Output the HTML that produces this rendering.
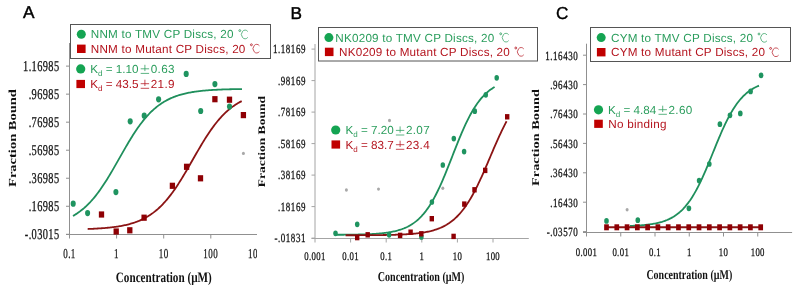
<!DOCTYPE html><html><head><meta charset="utf-8"><style>html,body{margin:0;padding:0;background:#fff}svg{display:block;will-change:transform;text-rendering:geometricPrecision}</style></head><body>
<svg width="800" height="292" viewBox="0 0 800 292">
<rect width="800" height="292" fill="#fff"/>
<g>
<line x1="69.5" y1="43" x2="69.5" y2="238.5" stroke="#909090" stroke-width="1"/>
<line x1="66.0" y1="234.5" x2="257" y2="234.5" stroke="#909090" stroke-width="1"/>
<line x1="66.0" y1="234.30" x2="69.5" y2="234.30" stroke="#909090" stroke-width="1"/>
<text transform="translate(59.50,239.10) scale(0.1725,0.2500)" font-family="'Liberation Serif', serif" font-size="60.00" font-weight="normal" fill="#111" text-anchor="end" letter-spacing="2.319" stroke="#111" stroke-width="1.2">-.03015</text>
<line x1="66.0" y1="206.27" x2="69.5" y2="206.27" stroke="#909090" stroke-width="1"/>
<text transform="translate(59.50,211.07) scale(0.1725,0.2500)" font-family="'Liberation Serif', serif" font-size="60.00" font-weight="normal" fill="#111" text-anchor="end" letter-spacing="2.319" stroke="#111" stroke-width="1.2">.16985</text>
<line x1="66.0" y1="178.24" x2="69.5" y2="178.24" stroke="#909090" stroke-width="1"/>
<text transform="translate(59.50,183.04) scale(0.1725,0.2500)" font-family="'Liberation Serif', serif" font-size="60.00" font-weight="normal" fill="#111" text-anchor="end" letter-spacing="2.319" stroke="#111" stroke-width="1.2">.36985</text>
<line x1="66.0" y1="150.21" x2="69.5" y2="150.21" stroke="#909090" stroke-width="1"/>
<text transform="translate(59.50,155.01) scale(0.1725,0.2500)" font-family="'Liberation Serif', serif" font-size="60.00" font-weight="normal" fill="#111" text-anchor="end" letter-spacing="2.319" stroke="#111" stroke-width="1.2">.56985</text>
<line x1="66.0" y1="122.18" x2="69.5" y2="122.18" stroke="#909090" stroke-width="1"/>
<text transform="translate(59.50,126.98) scale(0.1725,0.2500)" font-family="'Liberation Serif', serif" font-size="60.00" font-weight="normal" fill="#111" text-anchor="end" letter-spacing="2.319" stroke="#111" stroke-width="1.2">.76985</text>
<line x1="66.0" y1="94.15" x2="69.5" y2="94.15" stroke="#909090" stroke-width="1"/>
<text transform="translate(59.50,98.95) scale(0.1725,0.2500)" font-family="'Liberation Serif', serif" font-size="60.00" font-weight="normal" fill="#111" text-anchor="end" letter-spacing="2.319" stroke="#111" stroke-width="1.2">.96985</text>
<line x1="66.0" y1="66.12" x2="69.5" y2="66.12" stroke="#909090" stroke-width="1"/>
<text transform="translate(59.50,70.92) scale(0.1725,0.2500)" font-family="'Liberation Serif', serif" font-size="60.00" font-weight="normal" fill="#111" text-anchor="end" letter-spacing="2.319" stroke="#111" stroke-width="1.2">1.16985</text>
<text transform="translate(69.50,258.40) scale(0.1650,0.2500)" font-family="'Liberation Serif', serif" font-size="54.40" font-weight="normal" fill="#111" text-anchor="middle" letter-spacing="3.030" stroke="#111" stroke-width="1.0">0.1</text>
<line x1="116.60" y1="234.5" x2="116.60" y2="238.5" stroke="#909090" stroke-width="1"/>
<text transform="translate(116.60,258.40) scale(0.1650,0.2500)" font-family="'Liberation Serif', serif" font-size="54.40" font-weight="normal" fill="#111" text-anchor="middle" letter-spacing="3.030" stroke="#111" stroke-width="1.0">1</text>
<line x1="163.70" y1="234.5" x2="163.70" y2="238.5" stroke="#909090" stroke-width="1"/>
<text transform="translate(163.70,258.40) scale(0.1650,0.2500)" font-family="'Liberation Serif', serif" font-size="54.40" font-weight="normal" fill="#111" text-anchor="middle" letter-spacing="3.030" stroke="#111" stroke-width="1.0">10</text>
<line x1="210.80" y1="234.5" x2="210.80" y2="238.5" stroke="#909090" stroke-width="1"/>
<text transform="translate(210.80,258.40) scale(0.1650,0.2500)" font-family="'Liberation Serif', serif" font-size="54.40" font-weight="normal" fill="#111" text-anchor="middle" letter-spacing="3.030" stroke="#111" stroke-width="1.0">100</text>
<text transform="translate(257.90,258.40) scale(0.1650,0.2500)" font-family="'Liberation Serif', serif" font-size="54.40" font-weight="normal" fill="#111" text-anchor="middle" letter-spacing="3.030" stroke="#111" stroke-width="1.0">1000</text>
<text transform="translate(163.80,281.70) scale(0.1925,0.2500)" font-family="'Liberation Serif', serif" font-size="58.00" font-weight="bold" fill="#111" text-anchor="middle" >Concentration (µM)</text>
<text transform="translate(15.60,138.00) rotate(-90) scale(0.3355,0.2500)" font-family="'Liberation Serif', serif" font-size="43.20" font-weight="bold" fill="#111" text-anchor="middle">Fraction Bound</text>
<path d="M73.00,215.92 L74.00,215.35 L75.00,214.75 L76.00,214.12 L77.00,213.47 L78.00,212.79 L79.00,212.09 L80.00,211.35 L81.00,210.59 L82.00,209.80 L83.00,208.98 L84.00,208.13 L85.00,207.24 L86.00,206.33 L87.00,205.38 L88.00,204.40 L89.00,203.38 L90.00,202.34 L91.00,201.25 L92.00,200.14 L93.00,198.99 L94.00,197.80 L95.00,196.58 L96.00,195.33 L97.00,194.04 L98.00,192.72 L99.00,191.36 L100.00,189.98 L101.00,188.56 L102.00,187.10 L103.00,185.62 L104.00,184.11 L105.00,182.57 L106.00,181.00 L107.00,179.41 L108.00,177.79 L109.00,176.15 L110.00,174.49 L111.00,172.81 L112.00,171.11 L113.00,169.39 L114.00,167.66 L115.00,165.92 L116.00,164.17 L117.00,162.41 L118.00,160.65 L119.00,158.88 L120.00,157.12 L121.00,155.35 L122.00,153.59 L123.00,151.84 L124.00,150.09 L125.00,148.36 L126.00,146.64 L127.00,144.93 L128.00,143.24 L129.00,141.56 L130.00,139.91 L131.00,138.28 L132.00,136.67 L133.00,135.09 L134.00,133.54 L135.00,132.01 L136.00,130.51 L137.00,129.05 L138.00,127.61 L139.00,126.21 L140.00,124.83 L141.00,123.49 L142.00,122.19 L143.00,120.92 L144.00,119.68 L145.00,118.48 L146.00,117.31 L147.00,116.18 L148.00,115.08 L149.00,114.01 L150.00,112.98 L151.00,111.98 L152.00,111.02 L153.00,110.08 L154.00,109.18 L155.00,108.32 L156.00,107.48 L157.00,106.67 L158.00,105.89 L159.00,105.15 L160.00,104.43 L161.00,103.74 L162.00,103.07 L163.00,102.43 L164.00,101.82 L165.00,101.23 L166.00,100.67 L167.00,100.13 L168.00,99.61 L169.00,99.11 L170.00,98.64 L171.00,98.18 L172.00,97.74 L173.00,97.33 L174.00,96.93 L175.00,96.55 L176.00,96.18 L177.00,95.83 L178.00,95.50 L179.00,95.18 L180.00,94.88 L181.00,94.59 L182.00,94.31 L183.00,94.05 L184.00,93.79 L185.00,93.55 L186.00,93.32 L187.00,93.10 L188.00,92.89 L189.00,92.70 L190.00,92.51 L191.00,92.33 L192.00,92.15 L193.00,91.99 L194.00,91.83 L195.00,91.68 L196.00,91.54 L197.00,91.41 L198.00,91.28 L199.00,91.15 L200.00,91.04 L201.00,90.93 L202.00,90.82 L203.00,90.72 L204.00,90.62 L205.00,90.53 L206.00,90.44 L207.00,90.36 L208.00,90.28 L209.00,90.21 L210.00,90.14 L211.00,90.07 L212.00,90.00 L213.00,89.94 L214.00,89.88 L215.00,89.83 L216.00,89.78 L217.00,89.73 L218.00,89.68 L219.00,89.63 L220.00,89.59 L221.00,89.55 L222.00,89.51 L223.00,89.47 L224.00,89.44 L225.00,89.40 L226.00,89.37 L227.00,89.34 L228.00,89.31 L229.00,89.28 L230.00,89.26 L231.00,89.23 L232.00,89.21 L233.00,89.19 L234.00,89.16 L235.00,89.14 L236.00,89.12 L237.00,89.11 L238.00,89.09 L239.00,89.07 L240.00,89.06 L241.00,89.04 L242.00,89.03" fill="none" stroke="#1f8f5c" stroke-width="1.8"/>
<path d="M87.70,228.98 L88.70,228.95 L89.70,228.91 L90.70,228.87 L91.70,228.83 L92.70,228.78 L93.70,228.74 L94.70,228.69 L95.70,228.63 L96.70,228.58 L97.70,228.52 L98.70,228.46 L99.70,228.40 L100.70,228.33 L101.70,228.26 L102.70,228.19 L103.70,228.11 L104.70,228.03 L105.70,227.95 L106.70,227.86 L107.70,227.76 L108.70,227.67 L109.70,227.56 L110.70,227.46 L111.70,227.34 L112.70,227.22 L113.70,227.10 L114.70,226.97 L115.70,226.83 L116.70,226.68 L117.70,226.53 L118.70,226.37 L119.70,226.21 L120.70,226.03 L121.70,225.85 L122.70,225.65 L123.70,225.45 L124.70,225.24 L125.70,225.02 L126.70,224.79 L127.70,224.54 L128.70,224.29 L129.70,224.02 L130.70,223.74 L131.70,223.45 L132.70,223.14 L133.70,222.82 L134.70,222.48 L135.70,222.13 L136.70,221.76 L137.70,221.38 L138.70,220.98 L139.70,220.56 L140.70,220.12 L141.70,219.66 L142.70,219.18 L143.70,218.68 L144.70,218.16 L145.70,217.62 L146.70,217.05 L147.70,216.46 L148.70,215.85 L149.70,215.21 L150.70,214.55 L151.70,213.85 L152.70,213.14 L153.70,212.39 L154.70,211.61 L155.70,210.81 L156.70,209.97 L157.70,209.11 L158.70,208.21 L159.70,207.28 L160.70,206.32 L161.70,205.33 L162.70,204.30 L163.70,203.24 L164.70,202.14 L165.70,201.02 L166.70,199.86 L167.70,198.66 L168.70,197.43 L169.70,196.17 L170.70,194.88 L171.70,193.55 L172.70,192.19 L173.70,190.79 L174.70,189.37 L175.70,187.91 L176.70,186.43 L177.70,184.92 L178.70,183.37 L179.70,181.81 L180.70,180.22 L181.70,178.60 L182.70,176.96 L183.70,175.31 L184.70,173.63 L185.70,171.94 L186.70,170.23 L187.70,168.51 L188.70,166.78 L189.70,165.04 L190.70,163.30 L191.70,161.55 L192.70,159.80 L193.70,158.05 L194.70,156.30 L195.70,154.55 L196.70,152.82 L197.70,151.09 L198.70,149.37 L199.70,147.67 L200.70,145.98 L201.70,144.30 L202.70,142.65 L203.70,141.02 L204.70,139.40 L205.70,137.82 L206.70,136.25 L207.70,134.72 L208.70,133.21 L209.70,131.73 L210.70,130.28 L211.70,128.86 L212.70,127.47 L213.70,126.11 L214.70,124.79 L215.70,123.50 L216.70,122.24 L217.70,121.02 L218.70,119.83 L219.70,118.67 L220.70,117.55 L221.70,116.46 L222.70,115.41 L223.70,114.38 L224.70,113.40 L225.70,112.44 L226.70,111.52 L227.70,110.62 L228.70,109.76 L229.70,108.93 L230.70,108.13 L231.70,107.36 L232.70,106.62 L233.70,105.90 L234.70,105.21 L235.70,104.55 L236.70,103.92 L237.70,103.31 L238.70,102.72 L239.70,102.16 L240.70,101.62 L241.70,101.10" fill="none" stroke="#8b1414" stroke-width="1.8"/>
<ellipse cx="73.2" cy="203.7" rx="2.55" ry="3.1" fill="#1f9460"/>
<ellipse cx="87.6" cy="213.1" rx="2.55" ry="3.1" fill="#1f9460"/>
<ellipse cx="115.9" cy="192.1" rx="2.55" ry="3.1" fill="#1f9460"/>
<ellipse cx="130.2" cy="121.3" rx="2.55" ry="3.1" fill="#1f9460"/>
<ellipse cx="144.2" cy="115.7" rx="2.55" ry="3.1" fill="#1f9460"/>
<ellipse cx="158.6" cy="99.3" rx="2.55" ry="3.1" fill="#1f9460"/>
<ellipse cx="186.2" cy="73.9" rx="2.55" ry="3.1" fill="#1f9460"/>
<ellipse cx="200.7" cy="111" rx="2.55" ry="3.1" fill="#1f9460"/>
<ellipse cx="214.9" cy="84.1" rx="2.55" ry="3.1" fill="#1f9460"/>
<ellipse cx="229.5" cy="106.6" rx="2.55" ry="3.1" fill="#1f9460"/>
<rect x="98.85" y="211.40" width="5.3" height="6.2" fill="#8e0004"/>
<rect x="113.55" y="228.40" width="5.3" height="6.2" fill="#8e0004"/>
<rect x="127.15" y="227.20" width="5.3" height="6.2" fill="#8e0004"/>
<rect x="141.45" y="214.60" width="5.3" height="6.2" fill="#8e0004"/>
<rect x="169.75" y="182.70" width="5.3" height="6.2" fill="#8e0004"/>
<rect x="183.95" y="163.70" width="5.3" height="6.2" fill="#8e0004"/>
<rect x="197.85" y="175.20" width="5.3" height="6.2" fill="#8e0004"/>
<rect x="212.25" y="96.10" width="5.3" height="6.2" fill="#8e0004"/>
<rect x="226.85" y="96.60" width="5.3" height="6.2" fill="#8e0004"/>
<rect x="240.75" y="112.00" width="5.3" height="6.2" fill="#8e0004"/>
<ellipse cx="243.4" cy="153.4" rx="1.5" ry="1.7" fill="#a8a8a8"/>
</g>
<rect x="257" y="0" width="543" height="292" fill="#fff"/>
<line x1="315.0" y1="44" x2="315.0" y2="242.5" stroke="#a4a4a4" stroke-width="1"/>
<line x1="311.5" y1="238.5" x2="528.8" y2="238.5" stroke="#a4a4a4" stroke-width="1"/>
<line x1="311.5" y1="238.10" x2="315.0" y2="238.10" stroke="#a4a4a4" stroke-width="1"/>
<text transform="translate(306.00,242.30) scale(0.1800,0.2500)" font-family="'Liberation Serif', serif" font-size="50.00" font-weight="normal" fill="#111" text-anchor="end" letter-spacing="3.056" stroke="#111" stroke-width="1.2">-.01831</text>
<line x1="311.5" y1="206.60" x2="315.0" y2="206.60" stroke="#a4a4a4" stroke-width="1"/>
<text transform="translate(306.00,210.80) scale(0.1800,0.2500)" font-family="'Liberation Serif', serif" font-size="50.00" font-weight="normal" fill="#111" text-anchor="end" letter-spacing="3.056" stroke="#111" stroke-width="1.2">.18169</text>
<line x1="311.5" y1="175.10" x2="315.0" y2="175.10" stroke="#a4a4a4" stroke-width="1"/>
<text transform="translate(306.00,179.30) scale(0.1800,0.2500)" font-family="'Liberation Serif', serif" font-size="50.00" font-weight="normal" fill="#111" text-anchor="end" letter-spacing="3.056" stroke="#111" stroke-width="1.2">.38169</text>
<line x1="311.5" y1="143.60" x2="315.0" y2="143.60" stroke="#a4a4a4" stroke-width="1"/>
<text transform="translate(306.00,147.80) scale(0.1800,0.2500)" font-family="'Liberation Serif', serif" font-size="50.00" font-weight="normal" fill="#111" text-anchor="end" letter-spacing="3.056" stroke="#111" stroke-width="1.2">.58169</text>
<line x1="311.5" y1="112.10" x2="315.0" y2="112.10" stroke="#a4a4a4" stroke-width="1"/>
<text transform="translate(306.00,116.30) scale(0.1800,0.2500)" font-family="'Liberation Serif', serif" font-size="50.00" font-weight="normal" fill="#111" text-anchor="end" letter-spacing="3.056" stroke="#111" stroke-width="1.2">.78169</text>
<line x1="311.5" y1="80.60" x2="315.0" y2="80.60" stroke="#a4a4a4" stroke-width="1"/>
<text transform="translate(306.00,84.80) scale(0.1800,0.2500)" font-family="'Liberation Serif', serif" font-size="50.00" font-weight="normal" fill="#111" text-anchor="end" letter-spacing="3.056" stroke="#111" stroke-width="1.2">.98169</text>
<line x1="311.5" y1="49.10" x2="315.0" y2="49.10" stroke="#a4a4a4" stroke-width="1"/>
<text transform="translate(306.00,53.30) scale(0.1800,0.2500)" font-family="'Liberation Serif', serif" font-size="50.00" font-weight="normal" fill="#111" text-anchor="end" letter-spacing="3.056" stroke="#111" stroke-width="1.2">1.18169</text>
<text transform="translate(315.00,260.30) scale(0.1900,0.2500)" font-family="'Liberation Serif', serif" font-size="46.00" font-weight="normal" fill="#111" text-anchor="middle" letter-spacing="1.842" stroke="#111" stroke-width="1.0">0.001</text>
<line x1="350.60" y1="238.5" x2="350.60" y2="242.5" stroke="#a4a4a4" stroke-width="1"/>
<text transform="translate(350.60,260.30) scale(0.1900,0.2500)" font-family="'Liberation Serif', serif" font-size="46.00" font-weight="normal" fill="#111" text-anchor="middle" letter-spacing="1.842" stroke="#111" stroke-width="1.0">0.01</text>
<line x1="386.20" y1="238.5" x2="386.20" y2="242.5" stroke="#a4a4a4" stroke-width="1"/>
<text transform="translate(386.20,260.30) scale(0.1900,0.2500)" font-family="'Liberation Serif', serif" font-size="46.00" font-weight="normal" fill="#111" text-anchor="middle" letter-spacing="1.842" stroke="#111" stroke-width="1.0">0.1</text>
<line x1="421.80" y1="238.5" x2="421.80" y2="242.5" stroke="#a4a4a4" stroke-width="1"/>
<text transform="translate(421.80,260.30) scale(0.1900,0.2500)" font-family="'Liberation Serif', serif" font-size="46.00" font-weight="normal" fill="#111" text-anchor="middle" letter-spacing="1.842" stroke="#111" stroke-width="1.0">1</text>
<line x1="457.40" y1="238.5" x2="457.40" y2="242.5" stroke="#a4a4a4" stroke-width="1"/>
<text transform="translate(457.40,260.30) scale(0.1900,0.2500)" font-family="'Liberation Serif', serif" font-size="46.00" font-weight="normal" fill="#111" text-anchor="middle" letter-spacing="1.842" stroke="#111" stroke-width="1.0">10</text>
<line x1="493.00" y1="238.5" x2="493.00" y2="242.5" stroke="#a4a4a4" stroke-width="1"/>
<text transform="translate(493.00,260.30) scale(0.1900,0.2500)" font-family="'Liberation Serif', serif" font-size="46.00" font-weight="normal" fill="#111" text-anchor="middle" letter-spacing="1.842" stroke="#111" stroke-width="1.0">100</text>
<text transform="translate(421.10,281.00) scale(0.1867,0.2500)" font-family="'Liberation Serif', serif" font-size="54.00" font-weight="bold" fill="#111" text-anchor="middle" >Concentration (µM)</text>
<text transform="translate(265.40,141.70) rotate(-90) scale(0.3382,0.2500)" font-family="'Liberation Serif', serif" font-size="40.00" font-weight="bold" fill="#111" text-anchor="middle">Fraction Bound</text>
<path d="M335.60,234.78 L336.60,234.78 L337.60,234.77 L338.60,234.76 L339.60,234.76 L340.60,234.75 L341.60,234.74 L342.60,234.73 L343.60,234.73 L344.60,234.72 L345.60,234.71 L346.60,234.70 L347.60,234.69 L348.60,234.68 L349.60,234.66 L350.60,234.65 L351.60,234.64 L352.60,234.62 L353.60,234.60 L354.60,234.59 L355.60,234.57 L356.60,234.55 L357.60,234.53 L358.60,234.51 L359.60,234.48 L360.60,234.46 L361.60,234.43 L362.60,234.40 L363.60,234.37 L364.60,234.34 L365.60,234.30 L366.60,234.27 L367.60,234.23 L368.60,234.18 L369.60,234.14 L370.60,234.09 L371.60,234.04 L372.60,233.98 L373.60,233.92 L374.60,233.86 L375.60,233.80 L376.60,233.72 L377.60,233.65 L378.60,233.57 L379.60,233.48 L380.60,233.39 L381.60,233.29 L382.60,233.19 L383.60,233.08 L384.60,232.96 L385.60,232.83 L386.60,232.70 L387.60,232.56 L388.60,232.40 L389.60,232.24 L390.60,232.07 L391.60,231.89 L392.60,231.69 L393.60,231.48 L394.60,231.26 L395.60,231.02 L396.60,230.77 L397.60,230.50 L398.60,230.22 L399.60,229.92 L400.60,229.60 L401.60,229.26 L402.60,228.89 L403.60,228.51 L404.60,228.10 L405.60,227.67 L406.60,227.21 L407.60,226.72 L408.60,226.20 L409.60,225.66 L410.60,225.08 L411.60,224.46 L412.60,223.81 L413.60,223.13 L414.60,222.40 L415.60,221.63 L416.60,220.83 L417.60,219.97 L418.60,219.07 L419.60,218.12 L420.60,217.13 L421.60,216.08 L422.60,214.97 L423.60,213.82 L424.60,212.60 L425.60,211.33 L426.60,210.00 L427.60,208.61 L428.60,207.16 L429.60,205.64 L430.60,204.06 L431.60,202.42 L432.60,200.71 L433.60,198.94 L434.60,197.11 L435.60,195.21 L436.60,193.25 L437.60,191.23 L438.60,189.15 L439.60,187.01 L440.60,184.82 L441.60,182.58 L442.60,180.28 L443.60,177.94 L444.60,175.56 L445.60,173.14 L446.60,170.69 L447.60,168.20 L448.60,165.69 L449.60,163.16 L450.60,160.62 L451.60,158.06 L452.60,155.51 L453.60,152.95 L454.60,150.40 L455.60,147.87 L456.60,145.35 L457.60,142.85 L458.60,140.38 L459.60,137.94 L460.60,135.54 L461.60,133.18 L462.60,130.87 L463.60,128.60 L464.60,126.38 L465.60,124.22 L466.60,122.11 L467.60,120.07 L468.60,118.08 L469.60,116.15 L470.60,114.29 L471.60,112.49 L472.60,110.76 L473.60,109.08 L474.60,107.48 L475.60,105.93 L476.60,104.45 L477.60,103.03 L478.60,101.67 L479.60,100.37 L480.60,99.13 L481.60,97.95 L482.60,96.82 L483.60,95.75 L484.60,94.73 L485.60,93.76 L486.60,92.84 L487.60,91.96 L488.60,91.13 L489.60,90.34 L490.60,89.60 L491.60,88.90 L492.60,88.23 L493.60,87.60 L494.60,87.00" fill="none" stroke="#1f8f5c" stroke-width="1.8"/>
<path d="M345.60,235.24 L346.60,235.24 L347.60,235.24 L348.60,235.24 L349.60,235.24 L350.60,235.24 L351.60,235.23 L352.60,235.23 L353.60,235.23 L354.60,235.23 L355.60,235.22 L356.60,235.22 L357.60,235.22 L358.60,235.21 L359.60,235.21 L360.60,235.21 L361.60,235.20 L362.60,235.20 L363.60,235.19 L364.60,235.19 L365.60,235.18 L366.60,235.18 L367.60,235.17 L368.60,235.17 L369.60,235.16 L370.60,235.15 L371.60,235.15 L372.60,235.14 L373.60,235.13 L374.60,235.12 L375.60,235.11 L376.60,235.10 L377.60,235.09 L378.60,235.08 L379.60,235.07 L380.60,235.06 L381.60,235.05 L382.60,235.03 L383.60,235.02 L384.60,235.00 L385.60,234.99 L386.60,234.97 L387.60,234.95 L388.60,234.93 L389.60,234.91 L390.60,234.89 L391.60,234.86 L392.60,234.84 L393.60,234.81 L394.60,234.78 L395.60,234.75 L396.60,234.72 L397.60,234.68 L398.60,234.65 L399.60,234.61 L400.60,234.57 L401.60,234.52 L402.60,234.48 L403.60,234.43 L404.60,234.38 L405.60,234.32 L406.60,234.26 L407.60,234.20 L408.60,234.14 L409.60,234.07 L410.60,233.99 L411.60,233.91 L412.60,233.83 L413.60,233.74 L414.60,233.65 L415.60,233.55 L416.60,233.44 L417.60,233.33 L418.60,233.21 L419.60,233.08 L420.60,232.95 L421.60,232.81 L422.60,232.65 L423.60,232.50 L424.60,232.33 L425.60,232.15 L426.60,231.96 L427.60,231.75 L428.60,231.54 L429.60,231.31 L430.60,231.08 L431.60,230.82 L432.60,230.55 L433.60,230.27 L434.60,229.97 L435.60,229.65 L436.60,229.31 L437.60,228.96 L438.60,228.58 L439.60,228.19 L440.60,227.77 L441.60,227.32 L442.60,226.86 L443.60,226.36 L444.60,225.84 L445.60,225.29 L446.60,224.71 L447.60,224.10 L448.60,223.46 L449.60,222.79 L450.60,222.08 L451.60,221.33 L452.60,220.54 L453.60,219.72 L454.60,218.85 L455.60,217.94 L456.60,216.99 L457.60,215.99 L458.60,214.95 L459.60,213.86 L460.60,212.72 L461.60,211.53 L462.60,210.29 L463.60,209.00 L464.60,207.65 L465.60,206.26 L466.60,204.80 L467.60,203.30 L468.60,201.73 L469.60,200.12 L470.60,198.45 L471.60,196.72 L472.60,194.94 L473.60,193.11 L474.60,191.23 L475.60,189.30 L476.60,187.32 L477.60,185.29 L478.60,183.22 L479.60,181.10 L480.60,178.95 L481.60,176.76 L482.60,174.54 L483.60,172.28 L484.60,170.00 L485.60,167.70 L486.60,165.38 L487.60,163.05 L488.60,160.70 L489.60,158.35 L490.60,155.99 L491.60,153.64 L492.60,151.30 L493.60,148.96 L494.60,146.64 L495.60,144.34 L496.60,142.07 L497.60,139.82 L498.60,137.59 L499.60,135.41 L500.60,133.26 L501.60,131.15 L502.60,129.08 L503.60,127.05 L504.60,125.07 L505.60,123.15 L506.60,121.27" fill="none" stroke="#8b1414" stroke-width="1.8"/>
<ellipse cx="335.5" cy="233.3" rx="2.25" ry="2.85" fill="#1f9460"/>
<ellipse cx="357.2" cy="224.3" rx="2.25" ry="2.85" fill="#1f9460"/>
<ellipse cx="389.1" cy="234.8" rx="2.25" ry="2.85" fill="#1f9460"/>
<ellipse cx="421.4" cy="236.9" rx="2.25" ry="2.85" fill="#1f9460"/>
<ellipse cx="431.9" cy="202" rx="2.25" ry="2.85" fill="#1f9460"/>
<ellipse cx="442.8" cy="165" rx="2.25" ry="2.85" fill="#1f9460"/>
<ellipse cx="453.8" cy="138.6" rx="2.25" ry="2.85" fill="#1f9460"/>
<ellipse cx="464.1" cy="151.6" rx="2.25" ry="2.85" fill="#1f9460"/>
<ellipse cx="474.8" cy="111.2" rx="2.25" ry="2.85" fill="#1f9460"/>
<ellipse cx="485.8" cy="94.8" rx="2.25" ry="2.85" fill="#1f9460"/>
<ellipse cx="496.7" cy="77.8" rx="2.25" ry="2.85" fill="#1f9460"/>
<rect x="355.00" y="234.90" width="4.4" height="5.4" fill="#8e0004"/>
<rect x="365.50" y="232.10" width="4.4" height="5.4" fill="#8e0004"/>
<rect x="397.90" y="232.70" width="4.4" height="5.4" fill="#8e0004"/>
<rect x="408.40" y="229.50" width="4.4" height="5.4" fill="#8e0004"/>
<rect x="419.10" y="231.10" width="4.4" height="5.4" fill="#8e0004"/>
<rect x="429.60" y="216.00" width="4.4" height="5.4" fill="#8e0004"/>
<rect x="451.40" y="233.70" width="4.4" height="5.4" fill="#8e0004"/>
<rect x="462.10" y="201.40" width="4.4" height="5.4" fill="#8e0004"/>
<rect x="472.30" y="187.10" width="4.4" height="5.4" fill="#8e0004"/>
<rect x="483.00" y="167.70" width="4.4" height="5.4" fill="#8e0004"/>
<rect x="505.00" y="114.10" width="4.4" height="5.4" fill="#8e0004"/>
<ellipse cx="346.4" cy="190" rx="1.5" ry="1.7" fill="#a8a8a8"/>
<ellipse cx="378.5" cy="189.1" rx="1.5" ry="1.7" fill="#a8a8a8"/>
<ellipse cx="389.5" cy="120.5" rx="1.5" ry="1.7" fill="#a8a8a8"/>
<ellipse cx="442.8" cy="188.2" rx="1.5" ry="1.7" fill="#a8a8a8"/>
<line x1="586.5" y1="43.7" x2="586.5" y2="236.5" stroke="#909090" stroke-width="1"/>
<line x1="583.0" y1="232.5" x2="792.1" y2="232.5" stroke="#909090" stroke-width="1"/>
<line x1="583.0" y1="231.60" x2="586.5" y2="231.60" stroke="#909090" stroke-width="1"/>
<text transform="translate(578.30,235.90) scale(0.1800,0.2500)" font-family="'Liberation Serif', serif" font-size="50.00" font-weight="normal" fill="#111" text-anchor="end" letter-spacing="3.056" stroke="#111" stroke-width="1.2">-.03570</text>
<line x1="583.0" y1="202.20" x2="586.5" y2="202.20" stroke="#909090" stroke-width="1"/>
<text transform="translate(578.30,206.50) scale(0.1800,0.2500)" font-family="'Liberation Serif', serif" font-size="50.00" font-weight="normal" fill="#111" text-anchor="end" letter-spacing="3.056" stroke="#111" stroke-width="1.2">.16430</text>
<line x1="583.0" y1="172.80" x2="586.5" y2="172.80" stroke="#909090" stroke-width="1"/>
<text transform="translate(578.30,177.10) scale(0.1800,0.2500)" font-family="'Liberation Serif', serif" font-size="50.00" font-weight="normal" fill="#111" text-anchor="end" letter-spacing="3.056" stroke="#111" stroke-width="1.2">.36430</text>
<line x1="583.0" y1="143.40" x2="586.5" y2="143.40" stroke="#909090" stroke-width="1"/>
<text transform="translate(578.30,147.70) scale(0.1800,0.2500)" font-family="'Liberation Serif', serif" font-size="50.00" font-weight="normal" fill="#111" text-anchor="end" letter-spacing="3.056" stroke="#111" stroke-width="1.2">.56430</text>
<line x1="583.0" y1="114.00" x2="586.5" y2="114.00" stroke="#909090" stroke-width="1"/>
<text transform="translate(578.30,118.30) scale(0.1800,0.2500)" font-family="'Liberation Serif', serif" font-size="50.00" font-weight="normal" fill="#111" text-anchor="end" letter-spacing="3.056" stroke="#111" stroke-width="1.2">.76430</text>
<line x1="583.0" y1="84.60" x2="586.5" y2="84.60" stroke="#909090" stroke-width="1"/>
<text transform="translate(578.30,88.90) scale(0.1800,0.2500)" font-family="'Liberation Serif', serif" font-size="50.00" font-weight="normal" fill="#111" text-anchor="end" letter-spacing="3.056" stroke="#111" stroke-width="1.2">.96430</text>
<line x1="583.0" y1="55.20" x2="586.5" y2="55.20" stroke="#909090" stroke-width="1"/>
<text transform="translate(578.30,59.50) scale(0.1800,0.2500)" font-family="'Liberation Serif', serif" font-size="50.00" font-weight="normal" fill="#111" text-anchor="end" letter-spacing="3.056" stroke="#111" stroke-width="1.2">1.16430</text>
<text transform="translate(586.50,256.00) scale(0.1900,0.2500)" font-family="'Liberation Serif', serif" font-size="46.00" font-weight="normal" fill="#111" text-anchor="middle" letter-spacing="1.842" stroke="#111" stroke-width="1.0">0.001</text>
<line x1="620.75" y1="232.5" x2="620.75" y2="236.5" stroke="#909090" stroke-width="1"/>
<text transform="translate(620.75,256.00) scale(0.1900,0.2500)" font-family="'Liberation Serif', serif" font-size="46.00" font-weight="normal" fill="#111" text-anchor="middle" letter-spacing="1.842" stroke="#111" stroke-width="1.0">0.01</text>
<line x1="655.00" y1="232.5" x2="655.00" y2="236.5" stroke="#909090" stroke-width="1"/>
<text transform="translate(655.00,256.00) scale(0.1900,0.2500)" font-family="'Liberation Serif', serif" font-size="46.00" font-weight="normal" fill="#111" text-anchor="middle" letter-spacing="1.842" stroke="#111" stroke-width="1.0">0.1</text>
<line x1="689.25" y1="232.5" x2="689.25" y2="236.5" stroke="#909090" stroke-width="1"/>
<text transform="translate(689.25,256.00) scale(0.1900,0.2500)" font-family="'Liberation Serif', serif" font-size="46.00" font-weight="normal" fill="#111" text-anchor="middle" letter-spacing="1.842" stroke="#111" stroke-width="1.0">1</text>
<line x1="723.50" y1="232.5" x2="723.50" y2="236.5" stroke="#909090" stroke-width="1"/>
<text transform="translate(723.50,256.00) scale(0.1900,0.2500)" font-family="'Liberation Serif', serif" font-size="46.00" font-weight="normal" fill="#111" text-anchor="middle" letter-spacing="1.842" stroke="#111" stroke-width="1.0">10</text>
<line x1="757.75" y1="232.5" x2="757.75" y2="236.5" stroke="#909090" stroke-width="1"/>
<text transform="translate(757.75,256.00) scale(0.1900,0.2500)" font-family="'Liberation Serif', serif" font-size="46.00" font-weight="normal" fill="#111" text-anchor="middle" letter-spacing="1.842" stroke="#111" stroke-width="1.0">100</text>
<text transform="translate(689.30,279.00) scale(0.1847,0.2500)" font-family="'Liberation Serif', serif" font-size="54.00" font-weight="bold" fill="#111" text-anchor="middle" >Concentration (µM)</text>
<text transform="translate(539.40,137.50) rotate(-90) scale(0.3455,0.2500)" font-family="'Liberation Serif', serif" font-size="41.60" font-weight="bold" fill="#111" text-anchor="middle">Fraction Bound</text>
<path d="M630.00,225.93 L631.00,225.89 L632.00,225.85 L633.00,225.80 L634.00,225.76 L635.00,225.71 L636.00,225.65 L637.00,225.59 L638.00,225.53 L639.00,225.47 L640.00,225.39 L641.00,225.32 L642.00,225.24 L643.00,225.15 L644.00,225.06 L645.00,224.96 L646.00,224.86 L647.00,224.75 L648.00,224.63 L649.00,224.50 L650.00,224.36 L651.00,224.22 L652.00,224.06 L653.00,223.89 L654.00,223.72 L655.00,223.53 L656.00,223.33 L657.00,223.11 L658.00,222.88 L659.00,222.64 L660.00,222.38 L661.00,222.10 L662.00,221.81 L663.00,221.49 L664.00,221.16 L665.00,220.80 L666.00,220.42 L667.00,220.02 L668.00,219.59 L669.00,219.14 L670.00,218.65 L671.00,218.14 L672.00,217.59 L673.00,217.02 L674.00,216.40 L675.00,215.75 L676.00,215.07 L677.00,214.34 L678.00,213.57 L679.00,212.75 L680.00,211.89 L681.00,210.99 L682.00,210.03 L683.00,209.02 L684.00,207.96 L685.00,206.85 L686.00,205.67 L687.00,204.44 L688.00,203.16 L689.00,201.81 L690.00,200.40 L691.00,198.92 L692.00,197.39 L693.00,195.79 L694.00,194.12 L695.00,192.39 L696.00,190.60 L697.00,188.75 L698.00,186.83 L699.00,184.86 L700.00,182.82 L701.00,180.73 L702.00,178.59 L703.00,176.39 L704.00,174.15 L705.00,171.86 L706.00,169.54 L707.00,167.17 L708.00,164.78 L709.00,162.36 L710.00,159.92 L711.00,157.47 L712.00,155.00 L713.00,152.53 L714.00,150.06 L715.00,147.60 L716.00,145.15 L717.00,142.71 L718.00,140.30 L719.00,137.91 L720.00,135.56 L721.00,133.25 L722.00,130.97 L723.00,128.75 L724.00,126.57 L725.00,124.44 L726.00,122.36 L727.00,120.35 L728.00,118.39 L729.00,116.49 L730.00,114.66 L731.00,112.89 L732.00,111.18 L733.00,109.53 L734.00,107.95 L735.00,106.43 L736.00,104.98 L737.00,103.59 L738.00,102.26 L739.00,100.99 L740.00,99.77 L741.00,98.62 L742.00,97.52 L743.00,96.48 L744.00,95.48 L745.00,94.54 L746.00,93.65 L747.00,92.80 L748.00,92.00 L749.00,91.25 L750.00,90.53 L751.00,89.86 L752.00,89.22 L753.00,88.61 L754.00,88.05 L755.00,87.51 L756.00,87.01 L757.00,86.53 L758.00,86.09 L759.00,85.66" fill="none" stroke="#1f8f5c" stroke-width="1.8"/>
<line x1="606.5" y1="227.3" x2="760.7" y2="227.3" stroke="#8b1414" stroke-width="2.1"/>
<ellipse cx="606.5" cy="220.9" rx="2.3" ry="2.85" fill="#1f9460"/>
<ellipse cx="637.8" cy="220.2" rx="2.3" ry="2.85" fill="#1f9460"/>
<ellipse cx="688.9" cy="208.3" rx="2.3" ry="2.85" fill="#1f9460"/>
<ellipse cx="699.1" cy="180.6" rx="2.3" ry="2.85" fill="#1f9460"/>
<ellipse cx="709.3" cy="164" rx="2.3" ry="2.85" fill="#1f9460"/>
<ellipse cx="719.9" cy="124.2" rx="2.3" ry="2.85" fill="#1f9460"/>
<ellipse cx="730" cy="115.3" rx="2.3" ry="2.85" fill="#1f9460"/>
<ellipse cx="740.3" cy="113.4" rx="2.3" ry="2.85" fill="#1f9460"/>
<ellipse cx="750.6" cy="91.4" rx="2.3" ry="2.85" fill="#1f9460"/>
<ellipse cx="761.1" cy="75.3" rx="2.3" ry="2.85" fill="#1f9460"/>
<rect x="604.15" y="224.30" width="4.7" height="6.0" fill="#8e0004"/>
<rect x="614.43" y="224.30" width="4.7" height="6.0" fill="#8e0004"/>
<rect x="624.71" y="224.30" width="4.7" height="6.0" fill="#8e0004"/>
<rect x="634.99" y="224.30" width="4.7" height="6.0" fill="#8e0004"/>
<rect x="645.27" y="224.30" width="4.7" height="6.0" fill="#8e0004"/>
<rect x="655.55" y="224.30" width="4.7" height="6.0" fill="#8e0004"/>
<rect x="665.83" y="224.30" width="4.7" height="6.0" fill="#8e0004"/>
<rect x="676.11" y="224.30" width="4.7" height="6.0" fill="#8e0004"/>
<rect x="686.39" y="224.30" width="4.7" height="6.0" fill="#8e0004"/>
<rect x="696.67" y="224.30" width="4.7" height="6.0" fill="#8e0004"/>
<rect x="706.95" y="224.30" width="4.7" height="6.0" fill="#8e0004"/>
<rect x="717.23" y="224.30" width="4.7" height="6.0" fill="#8e0004"/>
<rect x="727.51" y="224.30" width="4.7" height="6.0" fill="#8e0004"/>
<rect x="737.79" y="224.30" width="4.7" height="6.0" fill="#8e0004"/>
<rect x="748.07" y="224.30" width="4.7" height="6.0" fill="#8e0004"/>
<rect x="758.35" y="224.30" width="4.7" height="6.0" fill="#8e0004"/>
<ellipse cx="627.1" cy="209.8" rx="1.5" ry="1.7" fill="#a8a8a8"/>
<rect x="70.5" y="24.5" width="200" height="34" fill="#fff" stroke="#555" stroke-width="1"/>
<circle cx="81.3" cy="34.2" r="4.5" fill="#14a452"/>
<text transform="translate(90.80,38.40) scale(0.2500,0.2500)" font-family="'Liberation Sans', sans-serif" font-size="46.80" font-weight="normal" fill="#2a9d5c" text-anchor="start" letter-spacing="0.84">NNM to TMV CP Discs, 20</text>
<circle cx="239.80" cy="30.60" r="0.95" fill="none" stroke="#2a9d5c" stroke-width="0.8"/><path d="M247.78,31.54 A3.6,4.35 0 1 0 247.78,37.36" fill="none" stroke="#2a9d5c" stroke-width="0.85" opacity="0.85"/>
<rect x="77.00" y="44.60" width="8.6" height="8.4" fill="#c00000"/>
<text transform="translate(90.80,52.60) scale(0.2500,0.2500)" font-family="'Liberation Sans', sans-serif" font-size="46.80" font-weight="normal" fill="#b4141e" text-anchor="start" letter-spacing="0.84">NNM to Mutant CP Discs, 20</text>
<circle cx="251.40" cy="44.80" r="0.95" fill="none" stroke="#b4141e" stroke-width="0.8"/><path d="M259.38,45.74 A3.6,4.35 0 1 0 259.38,51.56" fill="none" stroke="#b4141e" stroke-width="0.85" opacity="0.85"/>
<circle cx="80.7" cy="68.9" r="4.6" fill="#14a452"/>
<text transform="translate(90.20,72.70) scale(0.2500,0.2500)" font-family="'Liberation Sans', sans-serif" font-size="46.80" font-weight="normal" fill="#2a9d5c" text-anchor="start" >K<tspan font-size="32" dy="12">d</tspan><tspan dy="-12"> = 1.10</tspan></text>
<path d="M140.70,68.80 h8.4 M144.90,64.80 v6.3 M140.70,73.40 h8.4" fill="none" stroke="#2a9d5c" stroke-width="0.9" opacity="0.85"/>
<text transform="translate(150.70,72.70) scale(0.2500,0.2500)" font-family="'Liberation Sans', sans-serif" font-size="46.80" font-weight="normal" fill="#2a9d5c" text-anchor="start" letter-spacing="1.4">0.63</text>
<rect x="76.40" y="79.90" width="8.6" height="8.2" fill="#c00000"/>
<text transform="translate(90.20,87.60) scale(0.2500,0.2500)" font-family="'Liberation Sans', sans-serif" font-size="46.80" font-weight="normal" fill="#b4141e" text-anchor="start" >K<tspan font-size="32" dy="12">d</tspan><tspan dy="-12"> = 43.5</tspan></text>
<path d="M140.70,83.70 h8.4 M144.90,79.70 v6.3 M140.70,88.30 h8.4" fill="none" stroke="#b4141e" stroke-width="0.9" opacity="0.85"/>
<text transform="translate(150.70,87.60) scale(0.2500,0.2500)" font-family="'Liberation Sans', sans-serif" font-size="46.80" font-weight="normal" fill="#b4141e" text-anchor="start" letter-spacing="1.4">21.9</text>
<rect x="318.5" y="27.5" width="219" height="33.5" fill="#fff" stroke="#555" stroke-width="1"/>
<circle cx="328.9" cy="37.6" r="4.5" fill="#14a452"/>
<text transform="translate(335.30,41.60) scale(0.2500,0.2500)" font-family="'Liberation Sans', sans-serif" font-size="46.80" font-weight="normal" fill="#2a9d5c" text-anchor="start" letter-spacing="0.84">NK0209 to TMV CP Discs, 20</text>
<circle cx="500.70" cy="33.80" r="0.95" fill="none" stroke="#2a9d5c" stroke-width="0.8"/><path d="M508.68,34.74 A3.6,4.35 0 1 0 508.68,40.56" fill="none" stroke="#2a9d5c" stroke-width="0.85" opacity="0.85"/>
<rect x="324.90" y="47.70" width="8.6" height="8.4" fill="#c00000"/>
<text transform="translate(339.00,55.80) scale(0.2500,0.2500)" font-family="'Liberation Sans', sans-serif" font-size="46.80" font-weight="normal" fill="#b4141e" text-anchor="start" letter-spacing="0.84">NK0209 to Mutant CP Discs, 20</text>
<circle cx="515.80" cy="48.00" r="0.95" fill="none" stroke="#b4141e" stroke-width="0.8"/><path d="M523.78,48.94 A3.6,4.35 0 1 0 523.78,54.76" fill="none" stroke="#b4141e" stroke-width="0.85" opacity="0.85"/>
<circle cx="335.7" cy="130" r="4.6" fill="#14a452"/>
<text transform="translate(345.40,134.30) scale(0.2500,0.2500)" font-family="'Liberation Sans', sans-serif" font-size="46.80" font-weight="normal" fill="#2a9d5c" text-anchor="start" >K<tspan font-size="32" dy="12">d</tspan><tspan dy="-12"> = 7.20</tspan></text>
<path d="M395.90,130.40 h8.4 M400.10,126.40 v6.3 M395.90,135.00 h8.4" fill="none" stroke="#2a9d5c" stroke-width="0.9" opacity="0.85"/>
<text transform="translate(405.90,134.30) scale(0.2500,0.2500)" font-family="'Liberation Sans', sans-serif" font-size="46.80" font-weight="normal" fill="#2a9d5c" text-anchor="start" letter-spacing="1.4">2.07</text>
<rect x="331.50" y="140.40" width="8.6" height="8.2" fill="#c00000"/>
<text transform="translate(345.40,148.60) scale(0.2500,0.2500)" font-family="'Liberation Sans', sans-serif" font-size="46.80" font-weight="normal" fill="#b4141e" text-anchor="start" >K<tspan font-size="32" dy="12">d</tspan><tspan dy="-12"> = 83.7</tspan></text>
<path d="M395.90,144.70 h8.4 M400.10,140.70 v6.3 M395.90,149.30 h8.4" fill="none" stroke="#b4141e" stroke-width="0.9" opacity="0.85"/>
<text transform="translate(405.90,148.60) scale(0.2500,0.2500)" font-family="'Liberation Sans', sans-serif" font-size="46.80" font-weight="normal" fill="#b4141e" text-anchor="start" letter-spacing="1.4">23.4</text>
<rect x="590.5" y="27.5" width="200" height="34" fill="#fff" stroke="#555" stroke-width="1"/>
<circle cx="601.2" cy="37.6" r="4.5" fill="#14a452"/>
<text transform="translate(611.00,41.80) scale(0.2500,0.2500)" font-family="'Liberation Sans', sans-serif" font-size="46.80" font-weight="normal" fill="#2a9d5c" text-anchor="start" letter-spacing="0.84">CYM to TMV CP Discs, 20</text>
<circle cx="759.00" cy="34.00" r="0.95" fill="none" stroke="#2a9d5c" stroke-width="0.8"/><path d="M766.98,34.94 A3.6,4.35 0 1 0 766.98,40.76" fill="none" stroke="#2a9d5c" stroke-width="0.85" opacity="0.85"/>
<rect x="596.90" y="48.00" width="8.6" height="8.4" fill="#c00000"/>
<text transform="translate(611.00,56.20) scale(0.2500,0.2500)" font-family="'Liberation Sans', sans-serif" font-size="46.80" font-weight="normal" fill="#b4141e" text-anchor="start" letter-spacing="0.84">CYM to Mutant CP Discs, 20</text>
<circle cx="770.60" cy="48.40" r="0.95" fill="none" stroke="#b4141e" stroke-width="0.8"/><path d="M778.58,49.34 A3.6,4.35 0 1 0 778.58,55.16" fill="none" stroke="#b4141e" stroke-width="0.85" opacity="0.85"/>
<circle cx="598.5" cy="109.8" r="4.6" fill="#14a452"/>
<text transform="translate(608.00,113.60) scale(0.2500,0.2500)" font-family="'Liberation Sans', sans-serif" font-size="46.80" font-weight="normal" fill="#2a9d5c" text-anchor="start" >K<tspan font-size="32" dy="12">d</tspan><tspan dy="-12"> = 4.84</tspan></text>
<path d="M658.50,109.70 h8.4 M662.70,105.70 v6.3 M658.50,114.30 h8.4" fill="none" stroke="#2a9d5c" stroke-width="0.9" opacity="0.85"/>
<text transform="translate(668.50,113.60) scale(0.2500,0.2500)" font-family="'Liberation Sans', sans-serif" font-size="46.80" font-weight="normal" fill="#2a9d5c" text-anchor="start" letter-spacing="1.4">2.60</text>
<rect x="594.20" y="119.70" width="8.6" height="8.2" fill="#c00000"/>
<text transform="translate(608.30,128.00) scale(0.2500,0.2500)" font-family="'Liberation Sans', sans-serif" font-size="46.80" font-weight="normal" fill="#b4141e" text-anchor="start" letter-spacing="1.0">No binding</text>
<text transform="translate(23.00,18.30) scale(0.2500,0.2500)" font-family="'Liberation Sans', sans-serif" font-size="68.80" font-weight="normal" fill="#000" text-anchor="start" stroke="#000" stroke-width="1.8">A</text>
<text transform="translate(290.40,18.80) scale(0.2500,0.2500)" font-family="'Liberation Sans', sans-serif" font-size="68.80" font-weight="normal" fill="#000" text-anchor="start" stroke="#000" stroke-width="1.8">B</text>
<text transform="translate(556.00,19.30) scale(0.2500,0.2500)" font-family="'Liberation Sans', sans-serif" font-size="68.80" font-weight="normal" fill="#000" text-anchor="start" stroke="#000" stroke-width="1.4">C</text>
</svg></body></html>
